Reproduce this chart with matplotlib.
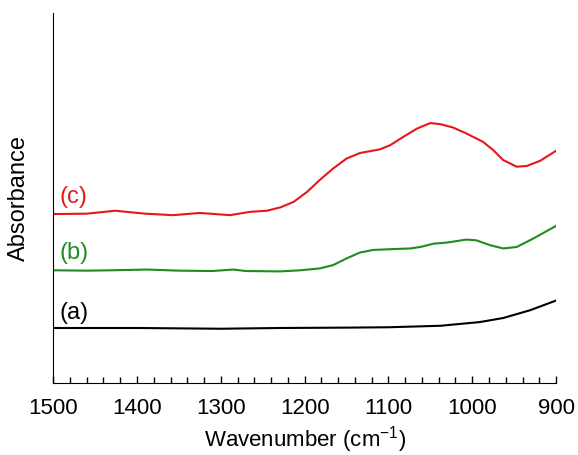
import matplotlib
matplotlib.use("Agg")
import matplotlib.pyplot as plt
from matplotlib.ticker import MultipleLocator

plt.rcParams['font.family'] = ['Liberation Sans', 'DejaVu Sans']

# spectra (wavenumber, absorbance in arbitrary units)
wn_a = [1500, 1400, 1300, 1229, 1150, 1100, 1038, 991, 963, 931, 899]
abs_a = [0.149, 0.149, 0.147, 0.149, 0.150, 0.151, 0.155, 0.165, 0.176, 0.197, 0.224]

wn_b = [1500, 1460, 1430, 1388, 1350, 1310, 1285, 1270, 1229, 1205, 1182, 1166,
        1150, 1134, 1118, 1098, 1074, 1062, 1046, 1030, 1007, 995, 979, 963,
        947, 927, 900]
abs_b = [0.305, 0.304, 0.305, 0.307, 0.304, 0.303, 0.307, 0.303, 0.302, 0.305,
         0.310, 0.319, 0.337, 0.353, 0.360, 0.362, 0.364, 0.368, 0.377, 0.380,
         0.388, 0.386, 0.373, 0.364, 0.368, 0.391, 0.425]

wn_c = [1500, 1460, 1426, 1390, 1357, 1325, 1289, 1265, 1245, 1229, 1213, 1197,
        1182, 1166, 1150, 1134, 1122, 1110, 1098, 1082, 1066, 1050, 1038, 1023,
        1007, 987, 975, 963, 947, 935, 919, 900]
abs_c = [0.457, 0.458, 0.466, 0.458, 0.454, 0.460, 0.454, 0.463, 0.466, 0.475,
         0.490, 0.517, 0.549, 0.580, 0.607, 0.622, 0.627, 0.632, 0.643, 0.666,
         0.688, 0.703, 0.700, 0.691, 0.675, 0.652, 0.630, 0.603, 0.585, 0.587,
         0.601, 0.628]

fig = plt.figure(figsize=(5.78, 4.55), dpi=100)
ax = fig.add_axes([0.092, 0.158, 0.870, 0.813])

ax.plot(wn_a, abs_a, color='black', lw=1.5)
ax.plot(wn_b, abs_b, color='#1e8c1e', lw=1.5)
ax.plot(wn_c, abs_c, color='#e8161c', lw=1.5)

ax.text(1492, 0.189, '(a)', color='black', fontsize=17, ha='left', va='center')
ax.text(1492, 0.351, '(b)', color='#1e8c1e', fontsize=17, ha='left', va='center')
ax.text(1492, 0.503, '(c)', color='#e8161c', fontsize=17, ha='left', va='center')

ax.set_xlim(1500, 900)
ax.set_ylim(0, 1)
ax.xaxis.set_major_locator(MultipleLocator(100))
ax.xaxis.set_minor_locator(MultipleLocator(20))
ax.tick_params(axis='x', which='major', direction='in', length=5, width=1,
               labelsize=16, pad=11)
ax.tick_params(axis='x', which='minor', direction='in', length=4, width=1)
ax.set_yticks([])

ax.spines['top'].set_visible(False)
ax.spines['right'].set_visible(False)

ax.set_xlabel('Wavenumber (cm$^{\\mathregular{-1}}$)', fontsize=16)
ax.xaxis.set_label_coords(0.5, -0.11)
ax.set_ylabel('Absorbance', fontsize=17)
ax.yaxis.set_label_coords(-0.046, 0.5)

fig.savefig('out.png', dpi=100)
